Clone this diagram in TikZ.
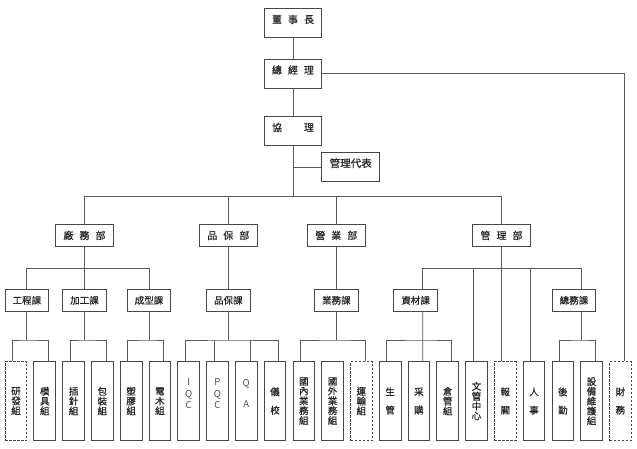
\documentclass[tikz,border=0pt]{standalone}
\usepackage{fontspec}
\newfontfamily\cjk[FakeBold=0.6]{Noto Sans CJK TC}
\newfontfamily\cjklat{Noto Sans CJK TC}
\begin{document}
\begin{tikzpicture}[x=1pt,y=-1pt]
\tikzset{
 box/.style={draw=black!72, line width=0.9pt, fill=white, inner sep=0pt, text=black!85},
 topbox/.style={box, minimum width=57.4pt, minimum height=28.7pt, font=\cjk\fontsize{10}{12}\selectfont, text height=8pt, text depth=8pt},
 deptbox/.style={box, minimum width=57.7pt, minimum height=21.3pt, font=\cjk\fontsize{10}{12}\selectfont},
 secbox/.style={box, minimum width=43.5pt, minimum height=22pt, font=\cjk\fontsize{9.5}{11}\selectfont},
 leafbox/.style={box, minimum width=21.7pt, minimum height=79pt, align=center, font=\cjk\fontsize{9.5}{9.8}\selectfont},
 latleaf/.style={leafbox, font=\cjklat\fontsize{9.5}{9.8}\selectfont, text=black!70},
 dashedleaf/.style={leafbox, dash pattern=on 2.4pt off 1.6pt},
 conn/.style={draw=black!65, line width=0.9pt},
}
\fill[white] (0,0) rectangle (637,449);
\useasboundingbox (0,0) rectangle (637,449);
\def\g{\hspace{6pt}}
% top
\node[topbox] (ceo) at (293,23.2) {董\g 事\g 長};
\node[topbox] (gm) at (293,73.8) {總\g 經\g 理};
\node[topbox] (vp) at (293,131.2) {協\hspace{22pt}理};
\node[topbox, minimum width=58pt, font=\cjk\fontsize{10.5}{12}\selectfont] (rep) at (350.7,167.2) {管理代表};
% departments
\node[deptbox] (fact) at (84.5,235.4) {廠\g 務\g 部};
\node[deptbox] (qa) at (228.3,235.4) {品\g 保\g 部};
\node[deptbox] (sales) at (336.3,235.4) {營\g 業\g 部};
\node[deptbox] (admin) at (501.5,235.4) {管\g 理\g 部};
% sections
\node[secbox] (s1) at (26.85,300.3) {工程課};
\node[secbox] (s2) at (84.5,300.3) {加工課};
\node[secbox] (s3) at (149,300.3) {成型課};
\node[secbox] (s4) at (228.3,300.3) {品保課};
\node[secbox] (s5) at (336.3,300.3) {業務課};
\node[secbox] (s6) at (415.6,300.3) {資材課};
\node[secbox] (s7) at (574,300.3) {總務課};
% leaves
\node[dashedleaf] (l0) at (16.00,401) {研\\發\\組};
\node[leafbox] (l1) at (44.78,401) {模\\具\\組};
\node[leafbox] (l2) at (73.56,401) {插\\針\\組};
\node[leafbox] (l3) at (102.34,401) {包\\裝\\組};
\node[leafbox] (l4) at (131.12,401) {塑\\膠\\組};
\node[leafbox] (l5) at (159.90,401) {電\\木\\組};
\node[latleaf] (l6) at (188.68,401) {I\\[1.9pt]Q\\[1.9pt]C\\[2pt]\strut};
\node[latleaf] (l7) at (217.46,401) {P\\[1.9pt]Q\\[1.9pt]C\\[2pt]\strut};
\node[latleaf] (l8) at (246.24,401) {Q\\[11.8pt]A\\[2pt]\strut};
\node[leafbox] (l9) at (275.02,401) {儀\\[8.5pt]校};
\node[leafbox] (l10) at (303.80,401) {國\\內\\業\\務\\組};
\node[leafbox] (l11) at (332.58,401) {國\\外\\業\\務\\組};
\node[dashedleaf] (l12) at (361.36,401) {運\\輸\\組};
\node[leafbox] (l13) at (390.14,401) {生\\[8.5pt]管};
\node[leafbox] (l14) at (418.92,401) {采\\[8.5pt]購};
\node[leafbox] (l15) at (447.70,401) {倉\\管\\組};
\node[leafbox] (l16) at (476.48,401) {文\\管\\中\\心};
\node[dashedleaf] (l17) at (505.26,401) {報\\[8.5pt]關};
\node[leafbox] (l18) at (534.04,401) {人\\[8.5pt]事};
\node[leafbox] (l19) at (562.82,401) {後\\[8.5pt]勤};
\node[leafbox] (l20) at (591.60,401) {設\\備\\維\\護\\組};
\node[dashedleaf] (l21) at (620.38,401) {財\\[8.5pt]務};
% bus coordinates
\coordinate (b1) at (293,196.5);
\coordinate (b2) at (0,268.3);
\coordinate (b3) at (0,340);
% connectors: top
\draw[conn] (ceo) -- (gm);
\draw[conn] (gm) -- (vp);
\draw[conn] (vp.south) -- (b1);
\draw[conn] (b1 |- rep.west) -- (rep.west);
\draw[conn] (fact.north) |- (b1) -| (admin.north);
\draw[conn] (qa.north) -- (qa.north |- b1);
\draw[conn] (sales.north) -- (sales.north |- b1);
\draw[conn] (gm.east) -| ([xshift=3.8]l21.north);
% level 2
\draw[conn] (fact.south) -- (s2.north);
\draw[conn] (s1.north) |- (s2.north |- b2) -| (s3.north);
\draw[conn] (qa.south) -- (s4.north);
\draw[conn] (sales.south) -- (s5.north);
\draw[conn] (admin.south) -- ([xshift=-3.8]l17.north);
\draw[conn] ([xshift=7.1]s6.north) |- (admin.south |- b2) -| ([xshift=7.7]s7.north);
\draw[conn] ([xshift=-3.4]l16.north) -- ([xshift=-3.4]l16.north |- b2);
\draw[conn] ([xshift=-3.4]l18.north) -- ([xshift=-3.4]l18.north |- b2);
% level 3
\draw[conn] (s1.south) -- (s1.south |- b3);
\draw[conn] ([xshift=-3.4]l0.north) |- (s1.south |- b3) -| ([xshift=3.8]l1.north);
\draw[conn] (s2.south) -- (s2.south |- b3);
\draw[conn] ([xshift=-3.4]l2.north) |- (s2.south |- b3) -| ([xshift=3.8]l3.north);
\draw[conn] (s3.south) -- (s3.south |- b3);
\draw[conn] ([xshift=-3.4]l4.north) |- (s3.south |- b3) -| ([xshift=3.8]l5.north);
\draw[conn] (s4.south) -- (s4.south |- b3);
\draw[conn] ([xshift=-3.4]l6.north) |- (s4.south |- b3) -| ([xshift=3.8]l9.north);
\draw[conn] ([xshift=-3.4]l7.north) -- ([xshift=-3.4]l7.north |- b3);
\draw[conn] ([xshift=3.8]l8.north) -- ([xshift=3.8]l8.north |- b3);
\draw[conn] (s5.south) -- (s5.south |- b3);
\draw[conn] ([xshift=-3.4]l10.north) |- (s5.south |- b3) -| ([xshift=3.8]l12.north);
\draw[conn] ([xshift=7.1]s6.south) -- ([xshift=3.8]l14.north);
\draw[conn] ([xshift=-3.4]l13.north) |- ([xshift=3.8]l14.north |- b3) -| ([xshift=3.8]l15.north);
\draw[conn] ([xshift=7.7]s7.south) -- ([xshift=7.7]s7.south |- b3);
\draw[conn] ([xshift=-3.4]l19.north) |- ([xshift=7.7]s7.south |- b3) -| ([xshift=3.8]l20.north);
\end{tikzpicture}
\end{document}
